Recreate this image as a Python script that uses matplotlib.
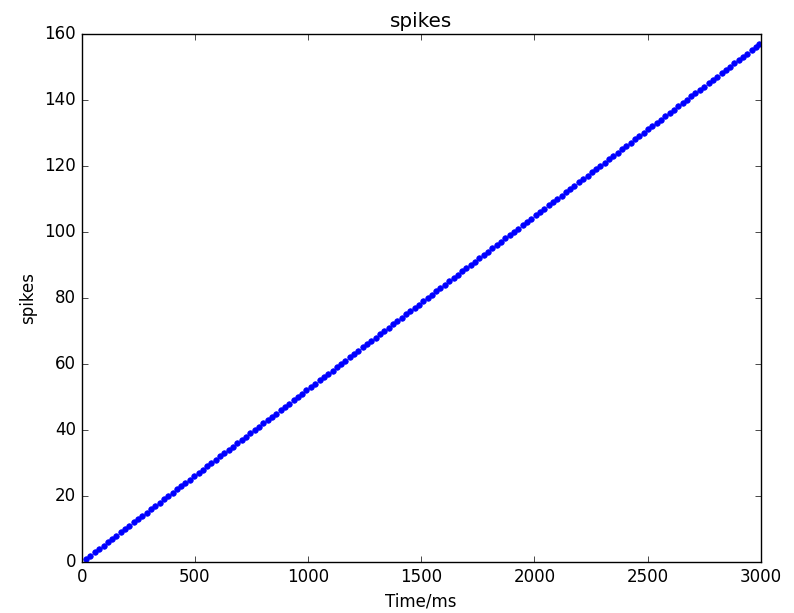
import numpy as np
import matplotlib
matplotlib.use("Agg")
import matplotlib.pyplot as plt

# spike times [ms]
spike_times = [
    19, 38, 57, 76, 96, 115, 134, 153, 172, 191,
    210, 229, 248, 267, 287, 306, 325, 344, 363, 382,
    401, 420, 439, 458, 478, 497, 516, 535, 554, 573,
    592, 611, 630, 649, 669, 688, 707, 726, 745, 764,
    783, 802, 821, 840, 860, 879, 898, 917, 936, 955,
    974, 993, 1012, 1031, 1051, 1070, 1089, 1108, 1127, 1146,
    1165, 1184, 1203, 1222, 1242, 1261, 1280, 1299, 1318, 1337,
    1356, 1375, 1394, 1413, 1433, 1452, 1471, 1490, 1509, 1528,
    1547, 1566, 1585, 1604, 1624, 1643, 1662, 1681, 1700, 1719,
    1738, 1757, 1776, 1795, 1815, 1834, 1853, 1872, 1891, 1910,
    1929, 1948, 1967, 1986, 2006, 2025, 2044, 2063, 2082, 2101,
    2120, 2139, 2158, 2177, 2197, 2216, 2235, 2254, 2273, 2292,
    2311, 2330, 2349, 2368, 2388, 2407, 2426, 2445, 2464, 2483,
    2502, 2521, 2540, 2559, 2579, 2598, 2617, 2636, 2655, 2674,
    2693, 2712, 2731, 2750, 2770, 2789, 2808, 2827, 2846, 2865,
    2884, 2903, 2922, 2941, 2961, 2978, 2993,
]

# cumulative spike count
counts = np.arange(1, len(spike_times) + 1)

plt.style.use('classic')
fig = plt.figure(figsize=(7.94, 6.13), dpi=100)
ax = fig.add_axes([0.103, 0.083, 0.855, 0.862])
ax.plot(spike_times, counts, 'b.', markersize=8)
ax.set_xlim(0, 3000)
ax.set_ylim(0, 160)
ax.set_title('spikes')
ax.set_xlabel('Time/ms')
ax.set_ylabel('spikes')
fig.savefig('out.png', dpi=100)
